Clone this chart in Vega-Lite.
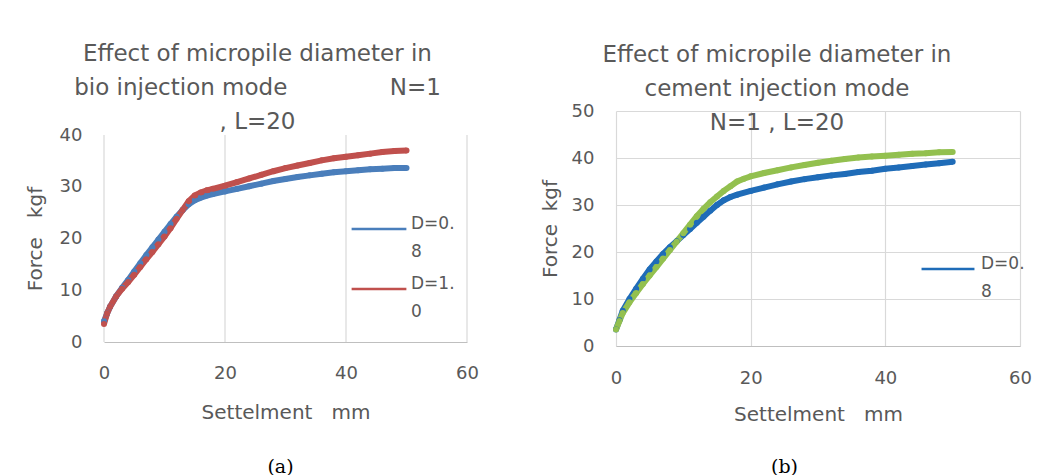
{
  "$schema": "https://vega.github.io/schema/vega-lite/v6.json",
  "background": "white",
  "padding": {"left": 25, "top": 43, "right": 10, "bottom": 0},
  "spacing": 61,
  "config": {
    "font": "DejaVu Sans",
    "view": {"stroke": null},
    "style": {"guide-label": {"lineHeight": 28}},
    "axis": {
      "labelColor": "#595959",
      "titleColor": "#595959",
      "labelFont": "DejaVu Sans",
      "titleFont": "DejaVu Sans",
      "labelFontSize": 18,
      "titleFontSize": 20,
      "titleFontWeight": "normal",
      "labelFlush": false,
      "gridColor": "#d9d9d9",
      "gridWidth": 1.2,
      "ticks": false,
      "domainColor": "#bfbfbf"
    },
    "legend": {
      "labelColor": "#595959",
      "labelFont": "DejaVu Sans",
      "labelFontSize": 17
    },
    "title": {
      "color": "#595959",
      "font": "DejaVu Sans",
      "fontSize": 23,
      "fontWeight": "normal",
      "lineHeight": 34
    }
  },
  "resolve": {"scale": {"color": "independent"}, "legend": {"color": "independent"}},
  "hconcat": [
    {
      "width": 363,
      "height": 231,
      "title": {
        "text": ["Effect of micropile diameter in", "bio injection mode\u00a0\u00a0\u00a0\u00a0\u00a0\u00a0\u00a0\u00a0\u00a0\u00a0\u00a0\u00a0\u00a0\u00a0N=1", ", L=20"],
        "anchor": "middle",
        "dx": -28,
        "offset": -23
      },
      "data": {
        "values": [
          {"s": 0, "f": 4.0, "D": "D=0.8"}, {"s": 0.5, "f": 5.5, "D": "D=0.8"}, {"s": 1, "f": 6.8, "D": "D=0.8"}, {"s": 2, "f": 8.8, "D": "D=0.8"}, {"s": 3, "f": 10.5, "D": "D=0.8"}, {"s": 4, "f": 12.0, "D": "D=0.8"}, {"s": 5, "f": 13.6, "D": "D=0.8"}, {"s": 6, "f": 15.2, "D": "D=0.8"}, {"s": 7, "f": 16.8, "D": "D=0.8"}, {"s": 8, "f": 18.3, "D": "D=0.8"}, {"s": 9, "f": 19.8, "D": "D=0.8"}, {"s": 10, "f": 21.3, "D": "D=0.8"}, {"s": 11, "f": 22.8, "D": "D=0.8"}, {"s": 12, "f": 24.2, "D": "D=0.8"}, {"s": 13, "f": 25.5, "D": "D=0.8"}, {"s": 14, "f": 26.6, "D": "D=0.8"}, {"s": 15, "f": 27.4, "D": "D=0.8"}, {"s": 16, "f": 27.9, "D": "D=0.8"}, {"s": 17, "f": 28.3, "D": "D=0.8"}, {"s": 18, "f": 28.6, "D": "D=0.8"}, {"s": 20, "f": 29.1, "D": "D=0.8"}, {"s": 22, "f": 29.6, "D": "D=0.8"}, {"s": 24, "f": 30.1, "D": "D=0.8"}, {"s": 26, "f": 30.6, "D": "D=0.8"}, {"s": 28, "f": 31.1, "D": "D=0.8"}, {"s": 30, "f": 31.5, "D": "D=0.8"}, {"s": 32, "f": 31.9, "D": "D=0.8"}, {"s": 34, "f": 32.2, "D": "D=0.8"}, {"s": 36, "f": 32.5, "D": "D=0.8"}, {"s": 38, "f": 32.8, "D": "D=0.8"}, {"s": 40, "f": 33.0, "D": "D=0.8"}, {"s": 42, "f": 33.2, "D": "D=0.8"}, {"s": 44, "f": 33.4, "D": "D=0.8"}, {"s": 46, "f": 33.5, "D": "D=0.8"}, {"s": 48, "f": 33.6, "D": "D=0.8"}, {"s": 50, "f": 33.6, "D": "D=0.8"},
          {"s": 0, "f": 3.5, "D": "D=1.0"}, {"s": 0.5, "f": 5.5, "D": "D=1.0"}, {"s": 1, "f": 6.8, "D": "D=1.0"}, {"s": 2, "f": 8.8, "D": "D=1.0"}, {"s": 3, "f": 10.3, "D": "D=1.0"}, {"s": 4, "f": 11.6, "D": "D=1.0"}, {"s": 5, "f": 13.0, "D": "D=1.0"}, {"s": 6, "f": 14.5, "D": "D=1.0"}, {"s": 7, "f": 16.0, "D": "D=1.0"}, {"s": 8, "f": 17.4, "D": "D=1.0"}, {"s": 9, "f": 18.9, "D": "D=1.0"}, {"s": 10, "f": 20.4, "D": "D=1.0"}, {"s": 11, "f": 22.0, "D": "D=1.0"}, {"s": 12, "f": 23.8, "D": "D=1.0"}, {"s": 13, "f": 25.5, "D": "D=1.0"}, {"s": 14, "f": 27.2, "D": "D=1.0"}, {"s": 15, "f": 28.3, "D": "D=1.0"}, {"s": 16, "f": 28.9, "D": "D=1.0"}, {"s": 17, "f": 29.3, "D": "D=1.0"}, {"s": 18, "f": 29.6, "D": "D=1.0"}, {"s": 20, "f": 30.2, "D": "D=1.0"}, {"s": 22, "f": 30.9, "D": "D=1.0"}, {"s": 24, "f": 31.6, "D": "D=1.0"}, {"s": 26, "f": 32.3, "D": "D=1.0"}, {"s": 28, "f": 33.0, "D": "D=1.0"}, {"s": 30, "f": 33.6, "D": "D=1.0"}, {"s": 32, "f": 34.1, "D": "D=1.0"}, {"s": 34, "f": 34.6, "D": "D=1.0"}, {"s": 36, "f": 35.1, "D": "D=1.0"}, {"s": 38, "f": 35.5, "D": "D=1.0"}, {"s": 40, "f": 35.8, "D": "D=1.0"}, {"s": 42, "f": 36.1, "D": "D=1.0"}, {"s": 44, "f": 36.4, "D": "D=1.0"}, {"s": 46, "f": 36.7, "D": "D=1.0"}, {"s": 48, "f": 36.9, "D": "D=1.0"}, {"s": 50, "f": 37.0, "D": "D=1.0"}
        ]
      },
      "resolve": {"axis": {"x": "independent"}},
      "layer": [
        {
          "data": {"values": [{"g": 0}, {"g": 20}, {"g": 40}, {"g": 60}]},
          "mark": {"type": "rule", "color": "#d9d9d9", "strokeWidth": 1.2},
          "encoding": {
            "x": {"field": "g", "type": "quantitative", "axis": null},
            "y": {"datum": 0, "type": "quantitative"},
            "y2": {"datum": 40}
          }
        },
        {
          "mark": {"type": "line", "strokeWidth": 6, "point": {"filled": true, "size": 36}},
          "encoding": {
            "x": {"field": "s", "type": "quantitative", "scale": {"domain": [0, 60]},
                  "axis": {"values": [0, 20, 40, 60], "title": "Settelment\u00a0\u00a0\u00a0mm", "labelPadding": 22, "titlePadding": 20, "grid": false}},
            "y": {"field": "f", "type": "quantitative", "scale": {"domain": [0, 40], "range": [231, 24]},
                  "axis": {"values": [0, 10, 20, 30, 40], "title": "Force\u00a0\u00a0\u00a0kgf", "labelPadding": 22, "titlePadding": 14, "domain": false}},
            "color": {"field": "D", "type": "nominal",
                      "scale": {"domain": ["D=0.8", "D=1.0"], "range": ["#4a7ebb", "#c0504d"]},
                      "legend": {"orient": "none", "legendX": 246, "legendY": 89, "title": null, "symbolType": "stroke", "symbolSize": 3000, "symbolStrokeWidth": 2.5, "labelOffset": 3, "rowPadding": 0, "labelBaseline": "alphabetic",
                                 "labelExpr": "[slice(datum.label, 0, 4), slice(datum.label, 4)]"}}
          }
        },
        {
          "mark": {"type": "line", "strokeOpacity": 0},
          "encoding": {
            "x": {"field": "s", "type": "quantitative",
                  "axis": {"orient": "bottom", "labels": false, "grid": false, "domain": false, "title": "(a)", "titleFont": "DejaVu Serif", "titleFontSize": 19, "titleColor": "#000000", "titlePadding": 115, "titleX": 176, "titleAlign": "center"}},
            "y": {"field": "f", "type": "quantitative"}
          }
        }
      ]
    },
    {
      "width": 404,
      "height": 235,
      "title": {
        "text": ["Effect of micropile diameter in", "cement injection mode", "N=1 , L=20"],
        "anchor": "middle",
        "dx": -41,
        "offset": -33
      },
      "data": {
        "values": [
          {"s": 0, "f": 3.5, "D": "D=0.8"}, {"s": 0.5, "f": 5.5, "D": "D=0.8"}, {"s": 1, "f": 7.5, "D": "D=0.8"}, {"s": 2, "f": 10.0, "D": "D=0.8"}, {"s": 3, "f": 12.2, "D": "D=0.8"}, {"s": 4, "f": 14.3, "D": "D=0.8"}, {"s": 5, "f": 16.3, "D": "D=0.8"}, {"s": 6, "f": 18.0, "D": "D=0.8"}, {"s": 7, "f": 19.6, "D": "D=0.8"}, {"s": 8, "f": 21.0, "D": "D=0.8"}, {"s": 9, "f": 22.3, "D": "D=0.8"}, {"s": 10, "f": 23.6, "D": "D=0.8"}, {"s": 11, "f": 24.9, "D": "D=0.8"}, {"s": 12, "f": 26.2, "D": "D=0.8"}, {"s": 13, "f": 27.5, "D": "D=0.8"}, {"s": 14, "f": 28.8, "D": "D=0.8"}, {"s": 15, "f": 30.0, "D": "D=0.8"}, {"s": 16, "f": 31.0, "D": "D=0.8"}, {"s": 17, "f": 31.7, "D": "D=0.8"}, {"s": 18, "f": 32.2, "D": "D=0.8"}, {"s": 20, "f": 33.0, "D": "D=0.8"}, {"s": 22, "f": 33.7, "D": "D=0.8"}, {"s": 24, "f": 34.4, "D": "D=0.8"}, {"s": 26, "f": 35.0, "D": "D=0.8"}, {"s": 28, "f": 35.5, "D": "D=0.8"}, {"s": 30, "f": 35.9, "D": "D=0.8"}, {"s": 32, "f": 36.3, "D": "D=0.8"}, {"s": 34, "f": 36.6, "D": "D=0.8"}, {"s": 36, "f": 37.0, "D": "D=0.8"}, {"s": 38, "f": 37.3, "D": "D=0.8"}, {"s": 40, "f": 37.7, "D": "D=0.8"}, {"s": 42, "f": 38.0, "D": "D=0.8"}, {"s": 44, "f": 38.3, "D": "D=0.8"}, {"s": 46, "f": 38.6, "D": "D=0.8"}, {"s": 48, "f": 38.9, "D": "D=0.8"}, {"s": 50, "f": 39.2, "D": "D=0.8"},
          {"s": 0, "f": 3.5, "D": "D=1.0"}, {"s": 0.5, "f": 5.3, "D": "D=1.0"}, {"s": 1, "f": 7.0, "D": "D=1.0"}, {"s": 2, "f": 9.3, "D": "D=1.0"}, {"s": 3, "f": 11.3, "D": "D=1.0"}, {"s": 4, "f": 13.2, "D": "D=1.0"}, {"s": 5, "f": 15.0, "D": "D=1.0"}, {"s": 6, "f": 16.8, "D": "D=1.0"}, {"s": 7, "f": 18.6, "D": "D=1.0"}, {"s": 8, "f": 20.4, "D": "D=1.0"}, {"s": 9, "f": 22.2, "D": "D=1.0"}, {"s": 10, "f": 24.0, "D": "D=1.0"}, {"s": 11, "f": 25.8, "D": "D=1.0"}, {"s": 12, "f": 27.6, "D": "D=1.0"}, {"s": 13, "f": 29.2, "D": "D=1.0"}, {"s": 14, "f": 30.6, "D": "D=1.0"}, {"s": 15, "f": 31.8, "D": "D=1.0"}, {"s": 16, "f": 33.0, "D": "D=1.0"}, {"s": 17, "f": 34.0, "D": "D=1.0"}, {"s": 18, "f": 35.0, "D": "D=1.0"}, {"s": 19, "f": 35.6, "D": "D=1.0"}, {"s": 20, "f": 36.1, "D": "D=1.0"}, {"s": 22, "f": 36.8, "D": "D=1.0"}, {"s": 24, "f": 37.4, "D": "D=1.0"}, {"s": 26, "f": 38.0, "D": "D=1.0"}, {"s": 28, "f": 38.5, "D": "D=1.0"}, {"s": 30, "f": 39.0, "D": "D=1.0"}, {"s": 32, "f": 39.4, "D": "D=1.0"}, {"s": 34, "f": 39.8, "D": "D=1.0"}, {"s": 36, "f": 40.1, "D": "D=1.0"}, {"s": 38, "f": 40.3, "D": "D=1.0"}, {"s": 40, "f": 40.5, "D": "D=1.0"}, {"s": 42, "f": 40.7, "D": "D=1.0"}, {"s": 44, "f": 40.9, "D": "D=1.0"}, {"s": 46, "f": 41.0, "D": "D=1.0"}, {"s": 48, "f": 41.2, "D": "D=1.0"}, {"s": 50, "f": 41.3, "D": "D=1.0"}
        ]
      },
      "resolve": {"axis": {"x": "independent"}},
      "layer": [
        {
          "mark": {"type": "line", "strokeWidth": 6, "point": {"filled": true, "size": 36}},
          "encoding": {
            "x": {"field": "s", "type": "quantitative", "scale": {"domain": [0, 60]},
                  "axis": {"values": [0, 20, 40, 60], "title": "Settelment\u00a0\u00a0\u00a0mm", "labelPadding": 23, "titlePadding": 17, "grid": true}},
            "y": {"field": "f", "type": "quantitative", "scale": {"domain": [0, 50]},
                  "axis": {"values": [0, 10, 20, 30, 40, 50], "title": "Force\u00a0\u00a0kgf", "labelPadding": 22, "titlePadding": 11, "domain": false}},
            "color": {"field": "D", "type": "nominal",
                      "scale": {"domain": ["D=0.8", "D=1.0"], "range": ["#1f6cb8", "#93c04f"]},
                      "legend": {"values": ["D=0.8"], "orient": "none", "legendX": 304, "legendY": 130, "title": null, "symbolType": "stroke", "symbolSize": 2800, "symbolStrokeWidth": 2.5, "labelOffset": 5, "labelBaseline": "alphabetic",
                                 "labelExpr": "[slice(datum.label, 0, 4), slice(datum.label, 4)]"}}
          }
        },
        {
          "mark": {"type": "line", "strokeOpacity": 0},
          "encoding": {
            "x": {"field": "s", "type": "quantitative",
                  "axis": {"orient": "bottom", "labels": false, "grid": false, "domain": false, "title": "(b)", "titleFont": "DejaVu Serif", "titleFontSize": 19, "titleColor": "#000000", "titlePadding": 111, "titleX": 168, "titleAlign": "center"}},
            "y": {"field": "f", "type": "quantitative"}
          }
        }
      ]
    }
  ]
}
